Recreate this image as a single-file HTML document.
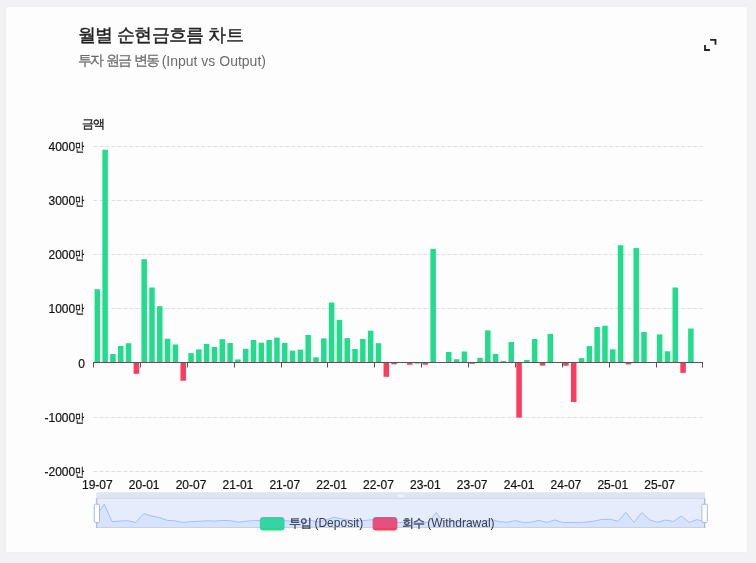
<!DOCTYPE html>
<html><head><meta charset="utf-8">
<style>
html,body{margin:0;padding:0;width:756px;height:563px;overflow:hidden;background:#f2f2f4;font-family:"Liberation Sans",sans-serif;}
.card{position:absolute;left:6px;top:7.2px;width:740.6px;height:545.1px;background:#fdfdfd;border-radius:1.5px;box-shadow:0 0 3px rgba(0,0,0,0.04);}
.title{position:absolute;left:78px;top:23px;font-size:18px;font-weight:normal;-webkit-text-stroke:0.4px #222;color:#222;white-space:nowrap;letter-spacing:-0.65px;}
.sub{position:absolute;left:78px;top:52px;font-size:14px;color:#6b6b6b;white-space:nowrap;} .k{letter-spacing:-2px;-webkit-text-stroke:0.25px #6b6b6b;} .lat{position:relative;top:0.8px;}
svg{position:absolute;left:0;top:0;will-change:transform;} .title,.sub{will-change:transform;}
</style></head><body>
<div class="card"></div>
<div class="title">월별 순현금흐름 차트</div>
<div class="sub"><span class="k">투자</span> <span class="k">원금</span> <span class="k">변동</span> <span class="lat">(Input vs Output)</span></div>
<svg width="756" height="563" viewBox="0 0 756 563">
<g stroke="#dddfe5" stroke-width="1" stroke-dasharray="4 2" fill="none"><line x1="93.4" y1="146.5" x2="702.6" y2="146.5"/><line x1="93.4" y1="200.5" x2="702.6" y2="200.5"/><line x1="93.4" y1="254.5" x2="702.6" y2="254.5"/><line x1="93.4" y1="308.5" x2="702.6" y2="308.5"/><line x1="93.4" y1="417.5" x2="702.6" y2="417.5"/><line x1="93.4" y1="471.5" x2="702.6" y2="471.5"/></g>
<g font-family="Liberation Sans, sans-serif" font-size="12" fill="#111" stroke="#111" stroke-width="0.2" text-anchor="end"><text x="75.2" y="151.1" text-anchor="end">4000</text><text x="75.4" y="151.1" text-anchor="start" textLength="9.2" lengthAdjust="spacingAndGlyphs" font-size="11.5" stroke-width="0.35">만</text><text x="75.2" y="205.1" text-anchor="end">3000</text><text x="75.4" y="205.1" text-anchor="start" textLength="9.2" lengthAdjust="spacingAndGlyphs" font-size="11.5" stroke-width="0.35">만</text><text x="75.2" y="259.1" text-anchor="end">2000</text><text x="75.4" y="259.1" text-anchor="start" textLength="9.2" lengthAdjust="spacingAndGlyphs" font-size="11.5" stroke-width="0.35">만</text><text x="75.2" y="313.1" text-anchor="end">1000</text><text x="75.4" y="313.1" text-anchor="start" textLength="9.2" lengthAdjust="spacingAndGlyphs" font-size="11.5" stroke-width="0.35">만</text><text x="85" y="367.9" text-anchor="end">0</text><text x="75.2" y="422.1" text-anchor="end">-1000</text><text x="75.4" y="422.1" text-anchor="start" textLength="9.2" lengthAdjust="spacingAndGlyphs" font-size="11.5" stroke-width="0.35">만</text><text x="75.2" y="476.1" text-anchor="end">-2000</text><text x="75.4" y="476.1" text-anchor="start" textLength="9.2" lengthAdjust="spacingAndGlyphs" font-size="11.5" stroke-width="0.35">만</text></g>
<text x="92.8" y="128.1" font-family="Liberation Sans, sans-serif" font-size="12" fill="#222" stroke="#222" stroke-width="0.35" text-anchor="middle" letter-spacing="-0.8">금액</text>
<g><rect x="94.56" y="289.20" width="5.50" height="73.30" fill="#22dc8d"/><rect x="102.37" y="149.70" width="5.50" height="212.80" fill="#22dc8d"/><rect x="110.18" y="354.00" width="5.50" height="8.50" fill="#22dc8d"/><rect x="117.99" y="346.00" width="5.50" height="16.50" fill="#22dc8d"/><rect x="125.80" y="343.20" width="5.50" height="19.30" fill="#22dc8d"/><rect x="133.61" y="362.50" width="5.50" height="11.30" fill="#fd3a5f"/><rect x="141.42" y="259.20" width="5.50" height="103.30" fill="#22dc8d"/><rect x="149.23" y="287.50" width="5.50" height="75.00" fill="#22dc8d"/><rect x="157.04" y="306.20" width="5.50" height="56.30" fill="#22dc8d"/><rect x="164.85" y="338.80" width="5.50" height="23.70" fill="#22dc8d"/><rect x="172.66" y="344.50" width="5.50" height="18.00" fill="#22dc8d"/><rect x="180.47" y="362.50" width="5.50" height="18.20" fill="#fd3a5f"/><rect x="188.28" y="353.10" width="5.50" height="9.40" fill="#22dc8d"/><rect x="196.09" y="349.40" width="5.50" height="13.10" fill="#22dc8d"/><rect x="203.90" y="343.90" width="5.50" height="18.60" fill="#22dc8d"/><rect x="211.71" y="346.90" width="5.50" height="15.60" fill="#22dc8d"/><rect x="219.52" y="339.20" width="5.50" height="23.30" fill="#22dc8d"/><rect x="227.33" y="342.90" width="5.50" height="19.60" fill="#22dc8d"/><rect x="235.14" y="359.40" width="5.50" height="3.10" fill="#22dc8d"/><rect x="242.95" y="348.80" width="5.50" height="13.70" fill="#22dc8d"/><rect x="250.76" y="340.00" width="5.50" height="22.50" fill="#22dc8d"/><rect x="258.57" y="342.70" width="5.50" height="19.80" fill="#22dc8d"/><rect x="266.38" y="340.00" width="5.50" height="22.50" fill="#22dc8d"/><rect x="274.19" y="337.60" width="5.50" height="24.90" fill="#22dc8d"/><rect x="282.00" y="342.90" width="5.50" height="19.60" fill="#22dc8d"/><rect x="289.81" y="350.70" width="5.50" height="11.80" fill="#22dc8d"/><rect x="297.62" y="349.60" width="5.50" height="12.90" fill="#22dc8d"/><rect x="305.43" y="334.90" width="5.50" height="27.60" fill="#22dc8d"/><rect x="313.24" y="357.30" width="5.50" height="5.20" fill="#22dc8d"/><rect x="321.05" y="338.40" width="5.50" height="24.10" fill="#22dc8d"/><rect x="328.86" y="302.50" width="5.50" height="60.00" fill="#22dc8d"/><rect x="336.67" y="319.90" width="5.50" height="42.60" fill="#22dc8d"/><rect x="344.48" y="338.10" width="5.50" height="24.40" fill="#22dc8d"/><rect x="352.29" y="349.00" width="5.50" height="13.50" fill="#22dc8d"/><rect x="360.10" y="338.90" width="5.50" height="23.60" fill="#22dc8d"/><rect x="367.91" y="330.70" width="5.50" height="31.80" fill="#22dc8d"/><rect x="375.72" y="343.20" width="5.50" height="19.30" fill="#22dc8d"/><rect x="383.53" y="362.50" width="5.50" height="14.30" fill="#fd3a5f"/><rect x="391.34" y="362.50" width="5.50" height="1.80" fill="#fd3a5f"/><rect x="406.97" y="362.50" width="5.50" height="2.20" fill="#fd3a5f"/><rect x="414.78" y="362.50" width="5.50" height="1.00" fill="#fd3a5f"/><rect x="422.59" y="362.50" width="5.50" height="2.20" fill="#fd3a5f"/><rect x="430.40" y="248.90" width="5.50" height="113.60" fill="#22dc8d"/><rect x="446.02" y="352.00" width="5.50" height="10.50" fill="#22dc8d"/><rect x="453.83" y="359.20" width="5.50" height="3.30" fill="#22dc8d"/><rect x="461.64" y="351.50" width="5.50" height="11.00" fill="#22dc8d"/><rect x="469.45" y="362.50" width="5.50" height="1.30" fill="#fd3a5f"/><rect x="477.26" y="357.80" width="5.50" height="4.70" fill="#22dc8d"/><rect x="485.07" y="330.30" width="5.50" height="32.20" fill="#22dc8d"/><rect x="492.88" y="353.90" width="5.50" height="8.60" fill="#22dc8d"/><rect x="500.69" y="360.90" width="5.50" height="1.60" fill="#22dc8d"/><rect x="508.50" y="341.90" width="5.50" height="20.60" fill="#22dc8d"/><rect x="516.31" y="362.50" width="5.50" height="55.10" fill="#fd3a5f"/><rect x="524.12" y="360.00" width="5.50" height="2.50" fill="#22dc8d"/><rect x="531.93" y="338.90" width="5.50" height="23.60" fill="#22dc8d"/><rect x="539.74" y="362.50" width="5.50" height="3.10" fill="#fd3a5f"/><rect x="547.55" y="333.90" width="5.50" height="28.60" fill="#22dc8d"/><rect x="563.17" y="362.50" width="5.50" height="3.20" fill="#fd3a5f"/><rect x="570.98" y="362.50" width="5.50" height="39.50" fill="#fd3a5f"/><rect x="578.79" y="358.10" width="5.50" height="4.40" fill="#22dc8d"/><rect x="586.60" y="346.10" width="5.50" height="16.40" fill="#22dc8d"/><rect x="594.41" y="327.00" width="5.50" height="35.50" fill="#22dc8d"/><rect x="602.22" y="325.70" width="5.50" height="36.80" fill="#22dc8d"/><rect x="610.03" y="349.30" width="5.50" height="13.20" fill="#22dc8d"/><rect x="617.84" y="245.20" width="5.50" height="117.30" fill="#22dc8d"/><rect x="625.65" y="362.50" width="5.50" height="1.90" fill="#fd3a5f"/><rect x="633.46" y="248.10" width="5.50" height="114.40" fill="#22dc8d"/><rect x="641.27" y="332.00" width="5.50" height="30.50" fill="#22dc8d"/><rect x="656.89" y="334.40" width="5.50" height="28.10" fill="#22dc8d"/><rect x="664.70" y="351.30" width="5.50" height="11.20" fill="#22dc8d"/><rect x="672.51" y="287.50" width="5.50" height="75.00" fill="#22dc8d"/><rect x="680.32" y="362.50" width="5.50" height="10.30" fill="#fd3a5f"/><rect x="688.13" y="328.50" width="5.50" height="34.00" fill="#22dc8d"/></g>
<line x1="93.4" y1="362.5" x2="702.6" y2="362.5" stroke="#555" stroke-width="1"/>
<g stroke="#555" stroke-width="1"><line x1="93.5" y1="362" x2="93.5" y2="367.5"/><line x1="140.5" y1="362" x2="140.5" y2="367.5"/><line x1="187.5" y1="362" x2="187.5" y2="367.5"/><line x1="234.5" y1="362" x2="234.5" y2="367.5"/><line x1="281.5" y1="362" x2="281.5" y2="367.5"/><line x1="327.5" y1="362" x2="327.5" y2="367.5"/><line x1="374.5" y1="362" x2="374.5" y2="367.5"/><line x1="421.5" y1="362" x2="421.5" y2="367.5"/><line x1="468.5" y1="362" x2="468.5" y2="367.5"/><line x1="515.5" y1="362" x2="515.5" y2="367.5"/><line x1="562.5" y1="362" x2="562.5" y2="367.5"/><line x1="609.5" y1="362" x2="609.5" y2="367.5"/><line x1="656.5" y1="362" x2="656.5" y2="367.5"/><line x1="702.5" y1="362" x2="702.5" y2="367.5"/></g>
<g font-family="Liberation Sans, sans-serif" font-size="12" fill="#111" stroke="#111" stroke-width="0.2" text-anchor="middle"><text x="97.31" y="488.6">19-07</text><text x="144.17" y="488.6">20-01</text><text x="191.03" y="488.6">20-07</text><text x="237.89" y="488.6">21-01</text><text x="284.75" y="488.6">21-07</text><text x="331.61" y="488.6">22-01</text><text x="378.47" y="488.6">22-07</text><text x="425.34" y="488.6">23-01</text><text x="472.20" y="488.6">23-07</text><text x="519.06" y="488.6">24-01</text><text x="565.92" y="488.6">24-07</text><text x="612.78" y="488.6">25-01</text><text x="659.64" y="488.6">25-07</text></g>
<!-- slider -->
<polygon points="96.30,527.90 96.30,516.10 104.21,504.09 112.11,521.68 120.02,520.99 127.92,520.75 135.83,522.41 143.73,513.52 151.64,515.96 159.54,517.57 167.45,520.37 175.35,520.87 183.26,522.41 191.16,521.61 199.07,521.29 206.97,520.81 214.88,521.07 222.78,520.41 230.69,520.73 238.59,522.15 246.50,521.24 254.40,520.48 262.31,520.71 270.21,520.48 278.12,520.27 286.02,520.73 293.93,521.40 301.84,521.30 309.74,520.04 317.65,521.97 325.55,520.34 333.46,517.25 341.36,518.75 349.27,520.31 357.17,521.25 365.08,520.38 372.98,519.68 380.89,520.75 388.79,522.41 396.70,522.41 404.60,522.41 412.51,522.41 420.41,522.41 428.32,522.41 436.22,512.63 444.13,522.41 452.03,521.51 459.94,522.13 467.84,521.47 475.75,522.41 483.65,522.01 491.56,519.64 499.46,521.67 507.37,522.28 515.28,520.64 523.18,522.41 531.09,522.20 538.99,520.38 546.90,522.41 554.80,519.95 562.71,522.41 570.61,522.41 578.52,522.41 586.42,522.04 594.33,521.00 602.23,519.36 610.14,519.25 618.04,521.28 625.95,512.32 633.85,522.41 641.76,512.57 649.66,519.79 657.57,522.41 665.47,520.00 673.38,521.45 681.28,515.96 689.19,522.41 697.09,519.49 705.00,522.41 705.00,527.90" fill="#8fb0f7" fill-opacity="0.16"/>
<polyline points="96.30,516.10 104.21,504.09 112.11,521.68 120.02,520.99 127.92,520.75 135.83,522.41 143.73,513.52 151.64,515.96 159.54,517.57 167.45,520.37 175.35,520.87 183.26,522.41 191.16,521.61 199.07,521.29 206.97,520.81 214.88,521.07 222.78,520.41 230.69,520.73 238.59,522.15 246.50,521.24 254.40,520.48 262.31,520.71 270.21,520.48 278.12,520.27 286.02,520.73 293.93,521.40 301.84,521.30 309.74,520.04 317.65,521.97 325.55,520.34 333.46,517.25 341.36,518.75 349.27,520.31 357.17,521.25 365.08,520.38 372.98,519.68 380.89,520.75 388.79,522.41 396.70,522.41 404.60,522.41 412.51,522.41 420.41,522.41 428.32,522.41 436.22,512.63 444.13,522.41 452.03,521.51 459.94,522.13 467.84,521.47 475.75,522.41 483.65,522.01 491.56,519.64 499.46,521.67 507.37,522.28 515.28,520.64 523.18,522.41 531.09,522.20 538.99,520.38 546.90,522.41 554.80,519.95 562.71,522.41 570.61,522.41 578.52,522.41 586.42,522.04 594.33,521.00 602.23,519.36 610.14,519.25 618.04,521.28 625.95,512.32 633.85,522.41 641.76,512.57 649.66,519.79 657.57,522.41 665.47,520.00 673.38,521.45 681.28,515.96 689.19,522.41 697.09,519.49 705.00,522.41" fill="none" stroke="#9fb3e6" stroke-width="0.8"/>
<rect x="96.3" y="498.4" width="608.70" height="29.1" fill="none" stroke="#d2dbee" stroke-width="1"/>
<!-- legend -->
<rect x="259.8" y="516.9" width="24.8" height="13.5" rx="3.5" fill="#22dc8d"/>
<text x="289.3" y="526.9" font-family="Liberation Sans, sans-serif" font-size="12" fill="#222"><tspan letter-spacing="-1.1" stroke="#222" stroke-width="0.3">투입</tspan> (Deposit)</text>
<rect x="372.6" y="516.9" width="24.8" height="13.5" rx="3.5" fill="#fd3a5f"/>
<text x="402.1" y="526.9" font-family="Liberation Sans, sans-serif" font-size="12" fill="#222"><tspan letter-spacing="-1.1" stroke="#222" stroke-width="0.3">회수</tspan> (Withdrawal)</text>
<rect x="96.3" y="498.6" width="608.70" height="29.30" fill="rgb(135,175,255)" fill-opacity="0.2"/>
<rect x="96.3" y="492.2" width="608.70" height="6.40" fill="#d2dbee" fill-opacity="0.75"/>
<g fill="#fff"><rect x="398.2" y="494.2" width="1.1" height="3.2" rx="0.5"/><rect x="400.4" y="494.2" width="1.1" height="3.2" rx="0.5"/><rect x="402.6" y="494.2" width="1.1" height="3.2" rx="0.5"/></g>
<!-- handles -->
<g stroke="#acb8d1" stroke-width="1" fill="#fff">
<line x1="96.8" y1="498.6" x2="96.8" y2="528"/>
<rect x="94.3" y="504.2" width="5.2" height="18.3" rx="1"/>
<line x1="704.6" y1="498.6" x2="704.6" y2="528"/>
<rect x="701.9" y="504.2" width="5.4" height="18.3" rx="1"/>
</g>
<!-- fullscreen icon -->
<g stroke="#222" stroke-width="1.8" fill="none" stroke-linecap="butt">
<path d="M710.1 39.8 H715.5 V44.7"/>
<path d="M705 45.1 V50 H709.9"/>
</g>
</svg>
</body></html>
